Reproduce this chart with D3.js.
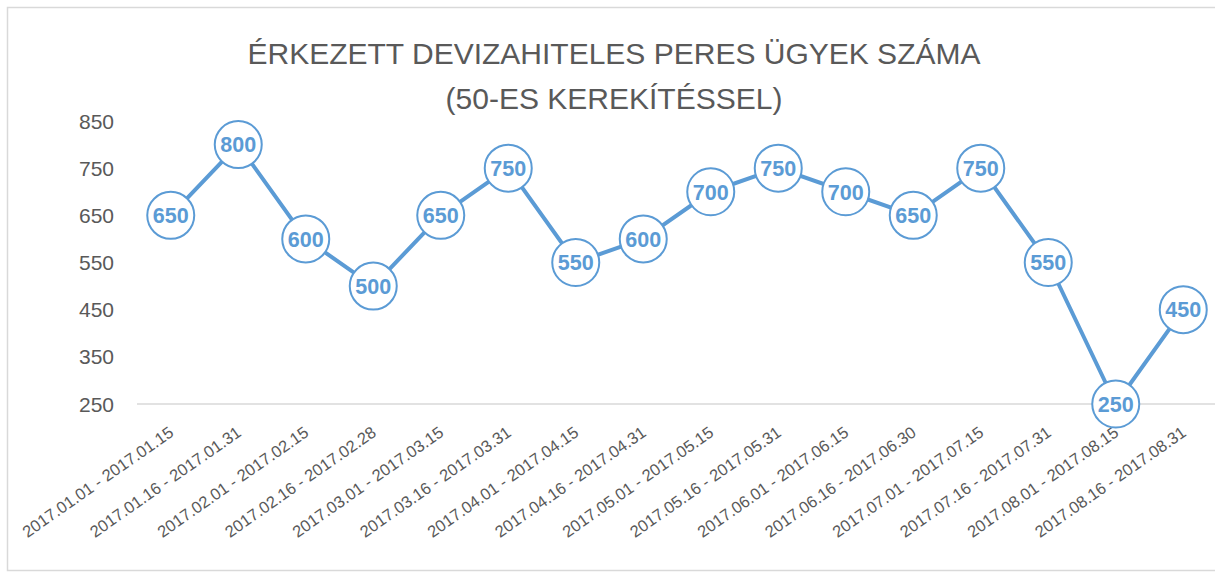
<!DOCTYPE html>
<html><head><meta charset="utf-8">
<script src="https://cdn.jsdelivr.net/npm/d3@7"></script>
<style>body{margin:0;background:#fff}svg{display:block}</style>
</head><body>
<script>
const categories = ["2017.01.01 - 2017.01.15","2017.01.16 - 2017.01.31","2017.02.01 - 2017.02.15","2017.02.16 - 2017.02.28","2017.03.01 - 2017.03.15","2017.03.16 - 2017.03.31","2017.04.01 - 2017.04.15","2017.04.16 - 2017.04.31","2017.05.01 - 2017.05.15","2017.05.16 - 2017.05.31","2017.06.01 - 2017.06.15","2017.06.16 - 2017.06.30","2017.07.01 - 2017.07.15","2017.07.16 - 2017.07.31","2017.08.01 - 2017.08.15","2017.08.16 - 2017.08.31"];
const values = [650,800,600,500,650,750,550,600,700,750,700,650,750,550,250,450];
const yTicks = [250,350,450,550,650,750,850];
const titleLines = ["ÉRKEZETT DEVIZAHITELES PERES ÜGYEK SZÁMA","(50-ES KEREKÍTÉSSEL)"];

const W=1215,H=574;
const svg=d3.select("body").append("svg").attr("width",W).attr("height",H);
svg.append("rect").attr("x",7.5).attr("y",7.5).attr("width",W).attr("height",H-11).attr("fill","#fff").attr("stroke","#d9d9d9").attr("stroke-width",1.5);

const x=d3.scaleBand().domain(categories).range([137,1217]);
const y=d3.scaleLinear().domain([250,850]).range([404,121]);
const font="'Liberation Sans', Arial, sans-serif";
const blue="#5b9bd5", grey="#595959";

svg.selectAll("text.title").data(titleLines).enter().append("text")
  .attr("x",614).attr("y",(d,i)=>64+i*45).attr("text-anchor","middle")
  .attr("font-family",font).attr("font-size",30).attr("fill",grey).text(d=>d);

// baseline
svg.append("line").attr("x1",137).attr("x2",1217).attr("y1",y(250)).attr("y2",y(250)).attr("stroke","#d9d9d9").attr("stroke-width",1.5);

// y axis labels
svg.selectAll("text.yt").data(yTicks).enter().append("text")
  .attr("x",114).attr("y",d=>y(d)).attr("dy","0.36em").attr("text-anchor","end")
  .attr("font-family",font).attr("font-size",21).attr("fill",grey).text(d=>d);

// x labels
svg.selectAll("text.xt").data(categories).enter().append("text")
  .attr("transform",d=>`translate(${x(d)+x.bandwidth()/2+4},${435}) rotate(-35)`)
  .attr("text-anchor","end").attr("font-family",font).attr("font-size",16.5).attr("fill",grey).text(d=>d);

const cx=(d,i)=>x(categories[i])+x.bandwidth()/2;
const line=d3.line().x((d,i)=>cx(d,i)).y(d=>y(d));
svg.append("path").datum(values).attr("d",line).attr("fill","none").attr("stroke",blue).attr("stroke-width",4).attr("stroke-linejoin","round");

const g=svg.selectAll("g.pt").data(values).enter().append("g").attr("transform",(d,i)=>`translate(${cx(d,i)},${y(d)})`);
g.append("circle").attr("r",23.5).attr("fill","#fff").attr("stroke",blue).attr("stroke-width",2);
g.append("text").attr("text-anchor","middle").attr("dy","0.36em").attr("font-family",font).attr("font-weight","bold").attr("font-size",21.5).attr("fill",blue).text(d=>d);
</script>
</body></html>
